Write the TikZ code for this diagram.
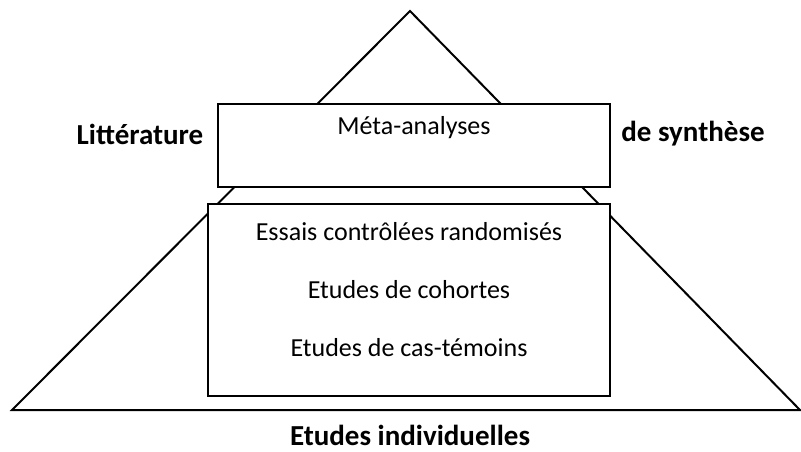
\documentclass[tikz,border=0pt]{standalone}
\usepackage{fontspec}
\setmainfont{Carlito}
\usetikzlibrary{positioning}

\begin{document}
\begin{tikzpicture}[x=1pt, y=-1pt, line width=2pt,
    box/.style={draw, fill=white, inner sep=0pt},
    txt/.style={font=\fontsize{26}{30}\selectfont, inner sep=0pt},
    lbl/.style={font=\fontsize{29}{33}\selectfont\bfseries, inner sep=0pt},
    node distance=0pt]
    \useasboundingbox (0,0) rectangle (801,452);

    % pyramid
    \coordinate (top) at (410,11);
    \coordinate (left) at (12,410);
    \coordinate (right) at (800,410);
    \draw (left) -- (top) -- (right) -- cycle;

    % boxes
    \node (meta) [box, anchor=north west, minimum width=392, minimum height=83] at (217,103) {};
    \node (study) [box, anchor=north west, minimum width=402, minimum height=192] at (207,203) {};

    \node (m1) [txt, below=12pt of meta.north] {Méta-analyses};
    \node (s1) [txt, below=18pt of study.north] {Essais contrôlées randomisés};
    \node (s2) [txt, below=38pt of s1] {Etudes de cohortes};
    \node (s3) [txt, below=38pt of s2] {Etudes de cas-témoins};

    % labels
    \node (lit) [lbl] at (140,134) {Littérature};
    \node (syn) [lbl] at (693,134) {de synthèse};
    \node (ind) [lbl] at (410,435) {Etudes individuelles};
\end{tikzpicture}
\end{document}
